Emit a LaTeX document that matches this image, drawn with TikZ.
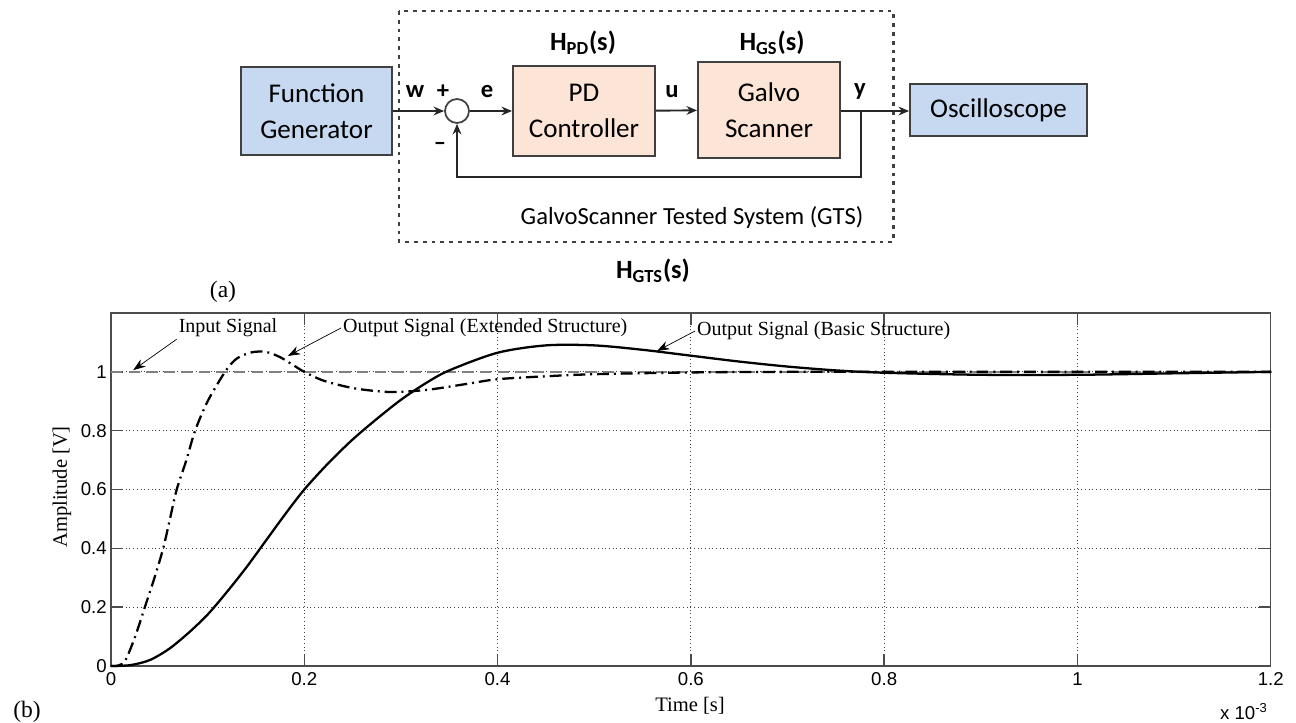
\documentclass[tikz,border=0pt]{standalone}
\usepackage{fontspec}
\setmainfont{Liberation Serif}
\newfontfamily\calfont{Carlito}
\newfontfamily\arialfont{Liberation Sans}
\usetikzlibrary{positioning, arrows.meta}
\definecolor{fgblue}{HTML}{C6D9F1}
\definecolor{blkpeach}{HTML}{FCE4D6}
\definecolor{boxline}{HTML}{404040}

\begin{document}
\begin{tikzpicture}[x=0.02cm, y=-0.02cm,
    blk/.style={draw=boxline, line width=1.1pt, fill=blkpeach, align=center, inner sep=0pt,
        font=\calfont\fontsize{15.4}{20.5}\selectfont},
    devbox/.style={blk, fill=fgblue},
    sumnode/.style={draw=boxline, line width=1pt, circle, fill=white, minimum size=0.48cm, inner sep=0pt},
    sig/.style={line width=1.1pt, draw=black!85, -{Stealth[length=6pt, width=5pt]}},
    lbl/.style={font=\calfont\bfseries\fontsize{14}{16}\selectfont, inner sep=0pt},
    gtsbox/.style={draw=black!75, line width=1.7pt, dash pattern=on 2.2pt off 2.8pt},
    grid/.style={draw=black!75, line width=0.5pt, dash pattern=on 0.5pt off 1.6pt},
    frame/.style={draw=black!70, line width=0.8pt},
    tick/.style={font=\arialfont\fontsize{10.6}{12}\selectfont, inner sep=0pt},
    note/.style={font=\fontsize{11.4}{13}\selectfont, inner sep=1pt},
    notearrow/.style={draw=black, line width=0.4pt, -{Stealth[length=7pt, width=5pt]}}
    ]
\useasboundingbox (0,0) rectangle (1296,723);

% block diagram (a)
\draw[gtsbox] (399,11) rectangle (893,242);
\node[devbox, minimum width=3.02cm, minimum height=1.76cm] (fg) at (316.5,111) {Function\\Generator};
\node[sumnode] (sum) at (457,111) {};
\node[blk, minimum width=2.84cm, minimum height=1.8cm] (pd) at (584,111) {PD\\Controller};
\node[blk, minimum width=2.84cm, minimum height=1.92cm] (gs) at (769,110) {Galvo\\Scanner};
\node[devbox, minimum width=3.54cm, minimum height=1.04cm] (osc) at (998.5,110) {Oscilloscope};
\coordinate (br) at (861,111);
\coordinate (fbk) at (861,177);

\draw[sig] (fg) -- (sum);
\draw[sig] (sum) -- (pd);
\draw[sig] (pd) -- (gs);
\draw[sig] (gs.east |- br) -- (osc.west |- br);
\draw[sig] (br) -- (fbk) -| (sum.south);

\node[lbl] (wlab) at (415,92) {w};
\node[lbl] (plus) at (443,92) {+};
\node[lbl] (minus) at (440,146) {–};
\node[lbl] (elab) at (487,92) {e};
\node[lbl] (ulab) at (672,92) {u};
\node[lbl] (ylab) at (860,91) {y};
\node[lbl, font=\calfont\bfseries\fontsize{15}{17}\selectfont] (hpd) at (583,43) {H\textsubscript{PD}(s)};
\node[lbl, font=\calfont\bfseries\fontsize{15}{17}\selectfont] (hgs) at (772,43) {H\textsubscript{GS}(s)};
\node[lbl, font=\calfont\fontsize{14}{16}\selectfont] (gts) at (692,217) {GalvoScanner Tested System (GTS)};
\node[lbl, font=\calfont\bfseries\fontsize{15}{17}\selectfont] (hgts) at (653,271) {H\textsubscript{GTS}(s)};
\node[font=\fontsize{13.4}{15}\selectfont] (capa) at (223,292) {(a)};

% step responses (b)
\begin{scope}[shift={(111,666)}, x=19.333cm, y=5.884cm]
\foreach \t in {0.2,0.4,0.6,0.8,1.0} \draw[grid] (\t,0) -- (\t,1.2);
\foreach \v in {0.2,0.4,0.6,0.8,1.0} \draw[grid] (0,\v) -- (1.2,\v);
\foreach \t in {0,0.2,0.4,0.6,0.8,1.0,1.2} {
    \draw[frame] (\t,0) -- ++(0cm,0.24cm);
    \draw[frame] (\t,1.2) -- ++(0cm,-0.24cm);
}
\foreach \v in {0,0.2,0.4,0.6,0.8,1.0,1.2} {
    \draw[frame] (0,\v) -- ++(0.24cm,0cm);
    \draw[frame] (1.2,\v) -- ++(-0.24cm,0cm);
}
\draw[frame] (0,0) rectangle (1.2,1.2);

\draw[draw=black!50, line width=0.9pt, dash pattern=on 6.5pt off 3.5pt] (0,1) -- (1.2,1);
\draw[line width=1.3pt, line join=round] plot[smooth] coordinates {
    (0,0) (0.02,0.003) (0.04,0.02) (0.06,0.058) (0.08,0.112) (0.1,0.175) (0.12,0.252)
    (0.14,0.335) (0.16,0.425) (0.18,0.515) (0.2,0.6) (0.225,0.69) (0.25,0.77) (0.275,0.84)
    (0.3,0.905) (0.325,0.96) (0.35,1.005) (0.4,1.065) (0.45,1.09) (0.5,1.09) (0.55,1.075)
    (0.6,1.055) (0.65,1.035) (0.7,1.018) (0.75,1.005) (0.8,0.997) (0.9,0.99) (1.0,0.99)
    (1.1,0.995) (1.2,1.0)};
\draw[line width=1.3pt, dash pattern=on 6.8pt off 2.8pt on 1.1pt off 2.8pt] plot[smooth] coordinates {
    (0,0) (0.008,0.002) (0.015,0.02) (0.025,0.1) (0.035,0.2) (0.045,0.3) (0.054,0.4)
    (0.061,0.5) (0.068,0.6) (0.078,0.7) (0.087,0.8) (0.1,0.9) (0.118,1.0) (0.13,1.045)
    (0.145,1.066) (0.16,1.068) (0.175,1.05) (0.19,1.02) (0.2,1.0) (0.22,0.97) (0.25,0.945)
    (0.28,0.933) (0.3,0.932) (0.33,0.94) (0.37,0.96) (0.4,0.975) (0.45,0.985) (0.5,0.992)
    (0.6,0.998) (0.7,1.0) (0.9,1.0) (1.2,1.0)};

\coordinate (inpt) at (0.023,1.006);
\coordinate (extpt) at (0.183,1.054);
\coordinate (baspt) at (0.565,1.071);

\foreach \v/\txt [count=\i] in {0/0,0.2/0.2,0.4/0.4,0.6/0.6,0.8/0.8,1/1}
    \node[tick, anchor=east] (yl\i) at ([xshift=-0.08cm]0,\v) {\txt};
\foreach \t/\txt [count=\i] in {0/0,0.2/0.2,0.4/0.4,0.6/0.6,0.8/0.8,1/1,1.2/1.2}
    \node[tick, anchor=north] (xl\i) at ([yshift=-0.12cm]\t,0) {\txt};
\end{scope}

\node[note] (insig) at (228,328) {Input Signal};
\node[note, anchor=west] (extsig) at (341,328) {Output Signal (Extended Structure)};
\node[note, anchor=west] (bassig) at (695,331) {Output Signal (Basic Structure)};
\draw[notearrow] (insig.south west) -- (inpt);
\draw[notearrow] (extsig.west) -- (extpt);
\draw[notearrow] (bassig.west) -- (baspt);

\node[font=\fontsize{11.7}{13}\selectfont] (xlabel) at (690,706) {Time [s]};
\node[font=\fontsize{11.7}{13}\selectfont, rotate=90] (ylabel) at (62,487) {Amplitude [V]};
\node[tick] (xscale) at (1244,712) {x 10\textsuperscript{-3}};
\node[font=\fontsize{13.4}{15}\selectfont] (capb) at (27,712) {(b)};
\end{tikzpicture}
\end{document}
